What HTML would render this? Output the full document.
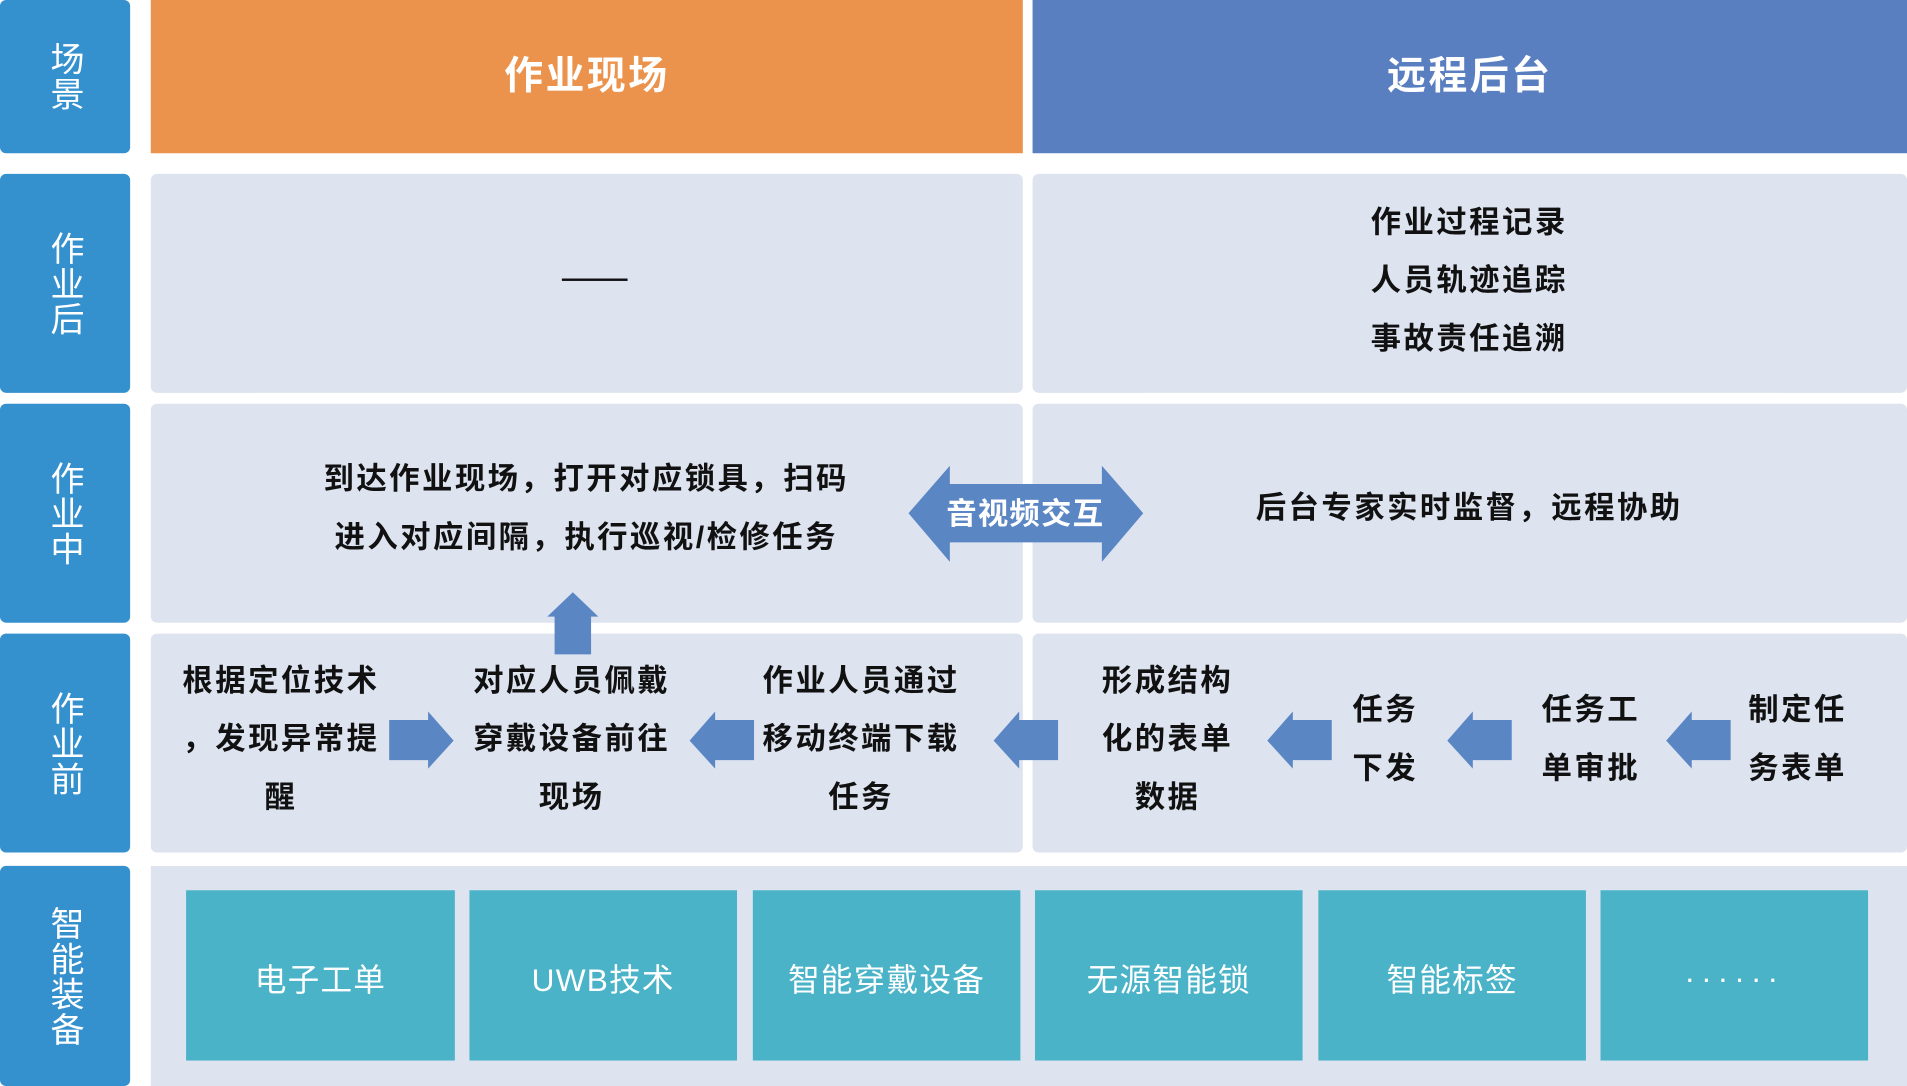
<!DOCTYPE html>
<html><head><meta charset="utf-8"><style>
html,body{margin:0;padding:0;background:#fff;width:1907px;height:1086px;overflow:hidden}
#w{position:absolute;left:0;top:0;width:1568px;height:893px;transform:scale(1.21620);transform-origin:0 0;font-family:"Liberation Sans","Noto Sans CJK SC",sans-serif}
.a{position:absolute}
.lab{background:#3590CE;border-radius:5px;color:#fff;font-size:28px;display:flex;align-items:center;justify-content:center;text-align:center;line-height:32px;writing-mode:vertical-rl;letter-spacing:1px}
.p{background:#DDE4F0;border-radius:5px}
.t{position:absolute;color:#111;font-size:25px;letter-spacing:2px;font-weight:bold;text-align:center;line-height:48px;white-space:nowrap;transform:translateX(-50%)}
.tb{background:#4BB3C8;color:#fff;font-size:26px;letter-spacing:1px;display:flex;align-items:center;justify-content:center;padding-top:4px;box-sizing:border-box}
.hd{color:#fff;font-size:32px;letter-spacing:2px;font-weight:bold;display:flex;align-items:center;justify-content:center;padding-bottom:6px;box-sizing:border-box}
</style></head><body><div id="w">
<div class="a lab" style="left:0;top:0;width:107px;height:126px">场景</div>
<div class="a lab" style="left:0;top:143px;width:107px;height:180px">作业后</div>
<div class="a lab" style="left:0;top:332px;width:107px;height:180px">作业中</div>
<div class="a lab" style="left:0;top:521px;width:107px;height:180px">作业前</div>
<div class="a lab" style="left:0;top:712px;width:107px;height:181px">智能装备</div>

<div class="a hd" style="left:124px;top:0;width:717px;height:126px;background:#EB934C">作业现场</div>
<div class="a hd" style="left:849px;top:0;width:719px;height:126px;background:#5A7FC0">远程后台</div>

<div class="a p" style="left:124px;top:143px;width:717px;height:180px"></div>
<div class="a p" style="left:849px;top:143px;width:719px;height:180px"></div>
<div class="a p" style="left:124px;top:332px;width:717px;height:180px"></div>
<div class="a p" style="left:849px;top:332px;width:719px;height:180px"></div>
<div class="a p" style="left:124px;top:521px;width:717px;height:180px"></div>
<div class="a p" style="left:849px;top:521px;width:719px;height:180px"></div>
<div class="a" style="left:124px;top:712px;width:1444px;height:181px;background:#DDE4F0"></div>

<div class="a" style="left:462px;top:229px;width:54px;height:2px;background:#111"></div>
<div class="t" style="left:1208px;top:159px">作业过程记录<br>人员轨迹追踪<br>事故责任追溯</div>

<div class="t" style="left:482px;top:370px">到达作业现场，打开对应锁具，扫码<br>进入对应间隔，执行巡视/检修任务</div>
<div class="t" style="left:1208px;top:394px">后台专家实时监督，远程协助</div>

<svg class="a" style="left:0;top:0" width="1568" height="893">
<g fill="#5B86C4">
<polygon points="747,422 781,383 781,398 906,398 906,383 940,422 906,462 906,446 781,446 781,462"/>
<polygon points="450,507 471,487 492,507 486,507 486,538 456,538 456,507"/>
<polygon points="320,592 352,592 352,585 373,609 352,632 352,625 320,625"/>
<polygon points="567,609 588,585 588,592 620,592 620,625 588,625 588,632"/>
<polygon points="817,609 838,585 838,592 870,592 870,625 838,625 838,632"/>
<polygon points="1042,609 1063,585 1063,592 1095,592 1095,625 1063,625 1063,632"/>
<polygon points="1190,609 1211,585 1211,592 1243,592 1243,625 1211,625 1211,632"/>
<polygon points="1370,609 1391,585 1391,592 1423,592 1423,625 1391,625 1391,632"/>
</g>
<text x="843" y="431" fill="#fff" font-size="25" letter-spacing="1" font-weight="bold" text-anchor="middle" font-family="Liberation Sans, Noto Sans CJK SC, sans-serif">音视频交互</text>
</svg>

<div class="t" style="left:231px;top:536px">根据定位技术<br>，发现异常提<br>醒</div>
<div class="t" style="left:470px;top:536px">对应人员佩戴<br>穿戴设备前往<br>现场</div>
<div class="t" style="left:708px;top:536px">作业人员通过<br>移动终端下载<br>任务</div>
<div class="t" style="left:960px;top:536px">形成结构<br>化的表单<br>数据</div>
<div class="t" style="left:1139px;top:560px">任务<br>下发</div>
<div class="t" style="left:1308px;top:560px">任务工<br>单审批</div>
<div class="t" style="left:1478px;top:560px">制定任<br>务表单</div>

<div class="a tb" style="left:153px;top:732px;width:221px;height:140px">电子工单</div>
<div class="a tb" style="left:386px;top:732px;width:220px;height:140px">UWB技术</div>
<div class="a tb" style="left:619px;top:732px;width:220px;height:140px">智能穿戴设备</div>
<div class="a tb" style="left:851px;top:732px;width:220px;height:140px">无源智能锁</div>
<div class="a tb" style="left:1084px;top:732px;width:220px;height:140px">智能标签</div>
<div class="a tb" style="left:1316px;top:732px;width:220px;height:140px;letter-spacing:5px">······</div>
</div></body></html>
